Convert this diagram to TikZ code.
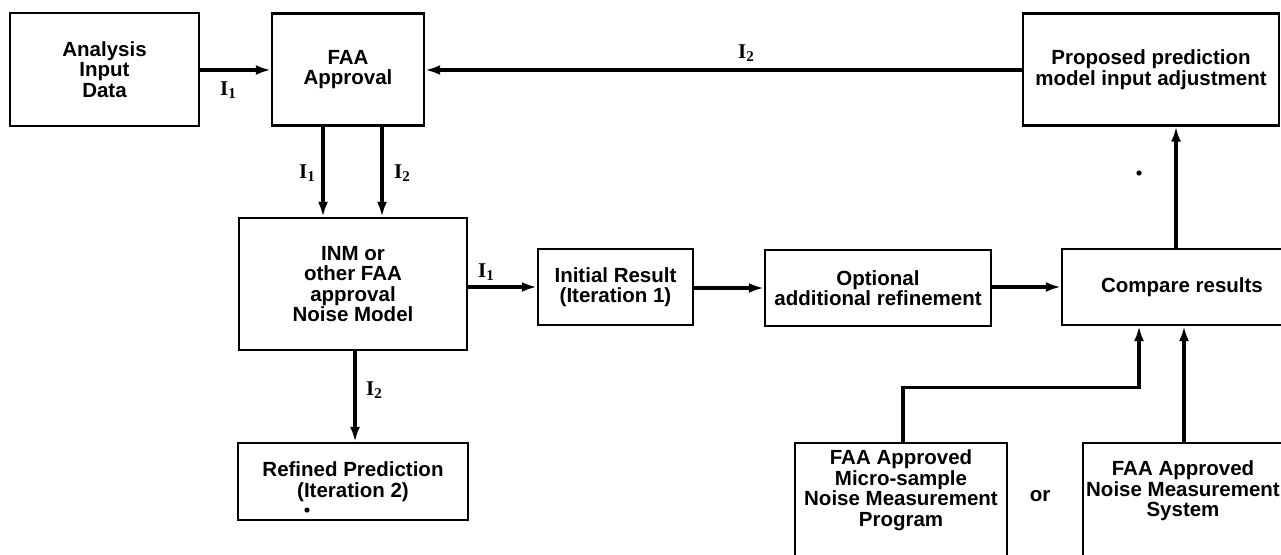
\documentclass[tikz,border=0pt]{standalone}
\usepackage{fontspec}
\setmainfont{Liberation Sans}
\newfontfamily\labfont{Liberation Serif}
\usetikzlibrary{arrows.meta,calc}
\newcommand\bxfont{\fontsize{20.5}{20.5}\selectfont\bfseries}
\newcommand\ilab[1]{{\labfont\bfseries\fontsize{21}{21}\selectfont I\raisebox{-3.5pt}{\fontsize{15}{15}\selectfont #1}}}
\begin{document}
\begin{tikzpicture}[x=1pt,y=-1pt,
  box/.style={draw,line width=2.3pt,inner sep=0pt,align=center,font=\bxfont},
  txt/.style={inner sep=0pt,align=center,font=\bxfont},
  lab/.style={inner sep=0pt},
  arr/.style={line width=3.2pt,-{Latex[length=15pt,width=10pt]}},
  conn/.style={line width=3.2pt}]
\useasboundingbox (0,0) rectangle (1281,554);
\clip (0,0) rectangle (1281,554);

% boxes
\node[box,minimum width=189pt,minimum height=113pt] (ana) at (104.5,69.5) {Analysis\\Input\\Data};
\node[box,minimum width=152pt,minimum height=112pt] (faa) at (348,69.5) {FAA\\Approval};
\node[box,minimum width=256pt,minimum height=112pt] (prop) at (1151,69.5) {Proposed prediction\\model input adjustment};
\node[box,minimum width=228pt,minimum height=132pt] (inm) at (353,284) {INM or\\other FAA\\approval\\Noise Model};
\node[box,minimum width=155pt,minimum height=76pt] (init) at (615.5,287) {Initial Result\\(Iteration 1)};
\node[box,minimum width=226pt,minimum height=76pt] (opt) at (878,288) {Optional\\additional refinement};
\node[box,minimum width=240pt,minimum height=76pt] (cmp) at (1182,287) {Compare results};
\node[box,minimum width=230pt,minimum height=77pt] (ref) at (353,481.5) {Refined Prediction\\(Iteration 2)};
\node[box,minimum width=212pt,minimum height=160pt] (micro) at (901,523) {};
\node[box,minimum width=220pt,minimum height=160pt] (nms) at (1193,523) {};
\node[txt] (microT) at (901,490) {FAA Approved\\Micro-sample\\Noise Measurement\\Program};
\node[txt] (nmsT) at (1183,491) {FAA Approved\\Noise Measurement\\System};
\node[txt] (orT) at (1040,496) {or};

% connectors
\draw[arr] (ana.east |- 0,70) coordinate (a1) -- (faa.west |- a1);
\draw[arr] (prop.west |- 0,70) coordinate (p1) -- (faa.east |- p1);
\draw[arr] ([xshift=-25pt]faa.south) -- ([xshift=-25pt]faa.south |- inm.north);
\draw[arr] ([xshift=34pt]faa.south) -- ([xshift=34pt]faa.south |- inm.north);
\draw[arr] (inm.east |- init.west) -- (init.west);
\draw[arr] (init.east |- 0,288) coordinate (i1) -- (opt.west |- i1);
\draw[arr] (opt.east |- 0,287) coordinate (o1) -- (cmp.west |- o1);
\draw[arr] ([xshift=-6pt]cmp.north) -- ([xshift=-6pt]cmp.north |- prop.south);
\draw[arr] ([xshift=2pt]inm.south) -- ([xshift=2pt]inm.south |- ref.north);
\draw[arr] ([xshift=2pt]micro.north) -- ++(0,-54) -| ([xshift=-43pt]cmp.south);
\draw[arr] ([xshift=2pt]cmp.south |- nms.north) -- ([xshift=2pt]cmp.south);

% labels
\node[lab] (l1) at (228,90) {\ilab{1}};
\node[lab] (l2) at (746,53) {\ilab{2}};
\node[lab] (l3) at (307,173) {\ilab{1}};
\node[lab] (l4) at (402,173) {\ilab{2}};
\node[lab] (l5) at (486,272) {\ilab{1}};
\node[lab] (l6) at (374,390) {\ilab{2}};

% specks
\fill (1139,173) circle (2.6pt);
\fill (307,510) circle (2.6pt);
\end{tikzpicture}
\end{document}
